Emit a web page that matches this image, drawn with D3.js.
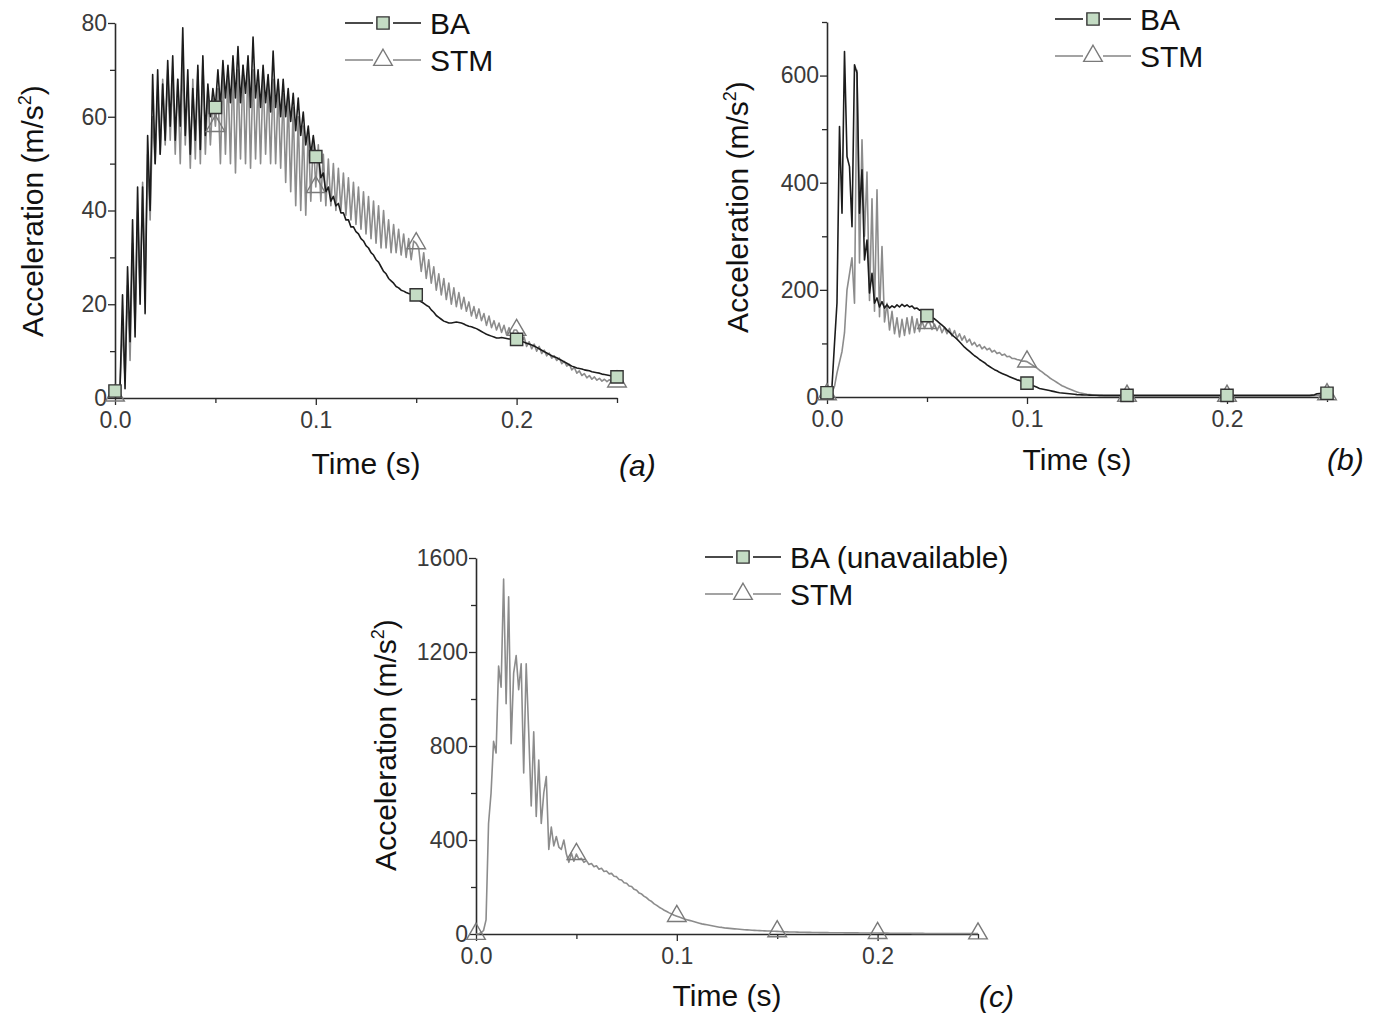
<!DOCTYPE html>
<html>
<head>
<meta charset="utf-8">
<script src="https://cdn.jsdelivr.net/npm/d3@7"></script>
<style>
  body { margin: 0; background: #fff; }
  svg { display: block; }
</style>
</head>
<body>
<div id="chart"></div>
<script>
// samples are spaced evenly, 0.00125 s apart, from 0 to 0.25 s (201 values)
const timeStep = 0.00125;
const markerTimes = [0, 0.05, 0.1, 0.15, 0.2, 0.25];
const xTicks = [0, 0.1, 0.2];
const xMinorTicks = [0.05, 0.15, 0.25];

// (a)
const baA = [
  1.5, 1, 2, 22, 2, 28, 12, 38,
  13, 45, 20, 45, 18, 56, 40, 69,
  50, 70, 52, 67, 55, 72, 58, 73,
  55, 68, 58, 79, 56, 70, 52, 66,
  55, 71, 53, 73, 56, 67, 60, 66,
  62, 70, 62, 72, 64, 71, 63, 73,
  64, 75, 63, 71, 65, 73, 62, 77,
  64, 70, 62, 71, 63, 69, 61, 74,
  62, 68, 60, 68, 60, 66, 59, 65,
  57, 64, 56, 61, 54, 58, 52, 56,
  51.5, 52, 47, 48, 44, 45, 42, 43,
  41, 41.5, 39.5, 39.5, 38, 38, 36.5, 36.5,
  35.5, 35, 34, 33.5, 32.5, 32, 31, 30.5,
  29.5, 29, 28, 27, 26.5, 25.5, 25, 24.5,
  23.8, 23.5, 23, 22.8, 22.5, 22.3, 22.2, 22.1,
  22, 21, 20.5, 20.2, 19.8, 19.5, 18.8, 18.3,
  17.6, 17.2, 16.8, 16.4, 16.2, 16, 16, 16.1,
  16.2, 16.1, 16, 15.8, 15.5, 15.3, 15.2, 15,
  14.8, 14.5, 14.2, 13.9, 13.6, 13.4, 13.2, 13,
  12.8, 12.8, 12.9, 12.8, 12.7, 12.6, 12.6, 12.5,
  12.5, 12.3, 12.1, 11.9, 11.7, 11.5, 11.3, 11.1,
  10.8, 10.5, 10.2, 9.9, 9.6, 9.3, 9.0, 8.8,
  8.6, 8.3, 8.0, 7.7, 7.4, 7.1, 6.8, 6.6,
  6.4, 6.3, 6.2, 6.0, 5.9, 5.8, 5.6, 5.5,
  5.4, 5.3, 5.1, 5.0, 4.9, 4.8, 4.7, 4.6,
  4.5
];
const stmA = [
  0.5, 0.5, 3, 15, 4, 24, 8, 33,
  15, 40, 22, 46, 25, 52, 38, 60,
  50, 66, 52, 68, 54, 70, 55, 69,
  52, 68, 50, 72, 54, 67, 49, 68,
  51, 70, 50, 72, 52, 66, 54, 64,
  58, 66, 50, 70, 52, 69, 50, 71,
  48, 70, 51, 71, 50, 72, 49, 70,
  51, 68, 50, 69, 52, 67, 50, 68,
  50, 66, 49, 65, 46, 64, 44, 62,
  41, 60, 40, 58, 39, 57, 42, 55,
  45, 54, 42, 52, 41, 51, 41, 50,
  40, 49, 40, 48, 39, 47, 38, 46,
  37, 45, 36, 44, 35, 43, 34, 42,
  33, 41, 32, 40, 32, 38, 31, 37,
  31, 36, 30.5, 35, 30, 34, 29.5, 33.5,
  33, 32, 27, 31, 25.5, 29.5, 24.5, 28,
  23, 26.5, 22, 25.5, 21, 24.5, 20, 23.5,
  19.5, 22.5, 19, 21.5, 18.5, 20.5, 17.5, 19.5,
  17, 19, 16.5, 18, 15.5, 17.5, 15, 16.5,
  14.5, 16, 14, 15.5, 13.5, 15, 13, 14.5,
  14.5, 13.5, 12, 13, 11, 12, 10.5, 11.5,
  10, 11, 9.5, 10.2, 9, 9.6, 8.5, 9,
  8, 8.5, 7.3, 7.8, 6.8, 7.2, 6, 6.5,
  5.3, 5.8, 4.8, 5.2, 4.3, 4.8, 4, 4.5,
  3.8, 4.2, 3.6, 4, 3.5, 3.9, 3.4, 3.7,
  3.5
];

// (b)
const baB = [
  8, 8, 20, 100, 176, 505, 343, 645,
  449, 430, 318, 620, 605, 343, 424, 256,
  293, 194, 231, 175, 185, 168, 178, 166,
  172, 166, 170, 167, 172, 168, 173, 169,
  172, 168, 170, 165, 166, 162, 163, 158,
  152, 154, 148, 146, 142, 138, 134, 130,
  125, 121, 116, 112, 108, 103, 98, 93,
  89, 85, 81, 77, 74, 70, 67, 64,
  60, 57, 54, 51, 49, 46, 44, 42,
  40, 38, 36, 34, 32, 31, 29, 28,
  26, 24, 22, 20, 18, 16, 15, 14,
  13, 12, 11, 10, 9, 8, 7.5, 7,
  6.5, 6, 5.5, 5, 4.5, 4.2, 4, 3.8,
  3.6, 3.5, 3.4, 3.3, 3.2, 3.1, 3, 3,
  3, 3, 3, 3, 3, 3, 3, 3,
  3, 3, 3, 3, 3, 3, 3, 3,
  3, 3, 3, 3, 3, 3, 3, 3,
  3, 3, 3, 3, 3, 3, 3, 3,
  3, 3, 3, 3, 3, 3, 3, 3,
  3, 3, 3, 3, 3, 3, 3, 3,
  3, 3, 3, 3, 3, 3, 3, 3,
  3, 3, 3, 3, 3, 3, 3, 3,
  3, 3, 3, 3, 3, 3, 3, 3,
  3, 3, 3, 3, 3, 3, 3, 3,
  3, 3, 3.5, 4, 6, 6.5, 7, 7,
  7
];
const stmB = [
  5, 5, 8, 20, 45, 65, 85, 120,
  200, 230, 260, 175, 610, 250, 480, 300,
  420, 180, 370, 160, 387, 150, 281, 140,
  175, 125, 160, 118, 148, 112, 145, 115,
  148, 118, 150, 120, 146, 122, 142, 128,
  138, 140, 126, 136, 124, 134, 120, 130,
  118, 128, 114, 124, 110, 118, 106, 114,
  102, 108, 97, 102, 94, 98, 90, 94,
  88, 91, 84, 87, 81, 83, 78, 80,
  75, 76, 72, 72, 70, 69, 67, 67,
  66, 63, 60, 57, 54, 50, 47, 43,
  40, 36, 33, 30, 27, 24, 21, 19,
  17, 15, 13, 11, 9.5, 8, 7, 6,
  5, 4.5, 4, 3.5, 3, 2.5, 2.5, 2,
  2, 2, 2, 2, 2, 2, 2, 2,
  2, 2, 2, 2, 2, 2, 2, 2,
  2, 2, 2, 2, 2, 2, 2, 2,
  2, 2, 2, 2, 2, 2, 2, 2,
  2, 2, 2, 2, 2, 2, 2, 2,
  2, 2, 2, 2, 2, 2, 2, 2,
  2, 2, 2, 2, 2, 2, 2, 2,
  2, 2, 2, 2, 2, 2, 2, 2,
  2, 2, 2, 2, 2, 2, 2, 2,
  2, 2, 2, 2, 2, 2, 2, 2,
  2, 2, 2, 2.5, 3, 3.5, 4, 4.5,
  5
];

// (c) - BA not available, only STM
const stmC = [
  0, 0, 5, 15, 60, 470, 600, 820,
  770, 1140, 1050, 1510, 980, 1435, 810, 1110,
  1185, 1040, 1150, 685, 1150, 860, 545, 860,
  500, 740, 470, 600, 670, 360, 455, 375,
  415, 370, 360, 400, 340, 305, 345, 310,
  340, 318, 322, 305, 312, 296, 300, 286,
  290, 276, 280, 266, 268, 256, 258, 246,
  244, 232, 230, 218, 216, 204, 202, 190,
  186, 174, 170, 160, 154, 144, 138, 128,
  122, 114, 108, 101, 96, 90, 85, 80,
  76, 72, 68, 64, 61, 58, 55, 52,
  49, 46, 43, 41, 39, 37, 35, 33,
  31, 29, 28, 26, 25, 24, 23, 22,
  21, 20, 19, 18, 17.5, 17, 16, 15.5,
  15, 14.5, 14, 13.5, 13, 12.5, 12, 11.5,
  11, 10.5, 10, 9.6, 9.2, 8.8, 8.5, 8.2,
  7.8, 7.6, 7.4, 7.2, 7, 6.8, 6.6, 6.4,
  6.2, 6, 5.9, 5.8, 5.7, 5.6, 5.5, 5.4,
  5.3, 5.2, 5.1, 5, 5, 4.9, 4.8, 4.7,
  4.6, 4.5, 4.4, 4.3, 4.2, 4.1, 4, 4,
  4, 3.9, 3.8, 3.7, 3.6, 3.5, 3.4, 3.3,
  3.2, 3.1, 3, 3, 3, 2.9, 2.8, 2.7,
  2.6, 2.5, 2.5, 2.4, 2.4, 2.3, 2.3, 2.2,
  2.2, 2.1, 2.1, 2, 2, 2, 2, 2,
  2, 2, 2, 2, 2, 2, 2, 2,
  2
];

const yTicksA = [0, 20, 40, 60, 80];
const yMinorA = [10, 30, 50, 70];
const yTicksB = [0, 200, 400, 600];
const yMinorB = [100, 300, 500, 700];
const yTicksC = [0, 400, 800, 1200, 1600];
const yMinorC = [200, 600, 1000, 1400];

const legendAB = ["BA", "STM"];
const legendC = ["BA (unavailable)", "STM"];

const baColor = "#1c1c1c";
const stmColor = "#8c8c8c";

const panels = [
  { id: "a", x0: 115, x1: 617, yTop: 23, yBottom: 398, yMax: 80,
    yTicks: yTicksA, yMinor: yMinorA, ba: baA, stm: stmA, legend: legendAB,
    legX: 345, legY: 23, yTitleX: 43, yTitleY: 211, xTitleX: 366, xTitleY: 474,
    tagX: 619, tagY: 476 },
  { id: "b", x0: 827, x1: 1327, yTop: 22, yBottom: 397, yMax: 700,
    yTicks: yTicksB, yMinor: yMinorB, ba: baB, stm: stmB, legend: legendAB,
    legX: 1055, legY: 19, yTitleX: 748, yTitleY: 207, xTitleX: 1077, xTitleY: 470,
    tagX: 1327, tagY: 470 },
  { id: "c", x0: 476, x1: 978, yTop: 558, yBottom: 934, yMax: 1600,
    yTicks: yTicksC, yMinor: yMinorC, ba: null, stm: stmC, legend: legendC,
    legX: 705, legY: 557, yTitleX: 396, yTitleY: 745, xTitleX: 727, xTitleY: 1006,
    tagX: 979, tagY: 1007 }
];

const svg = d3.select("#chart").append("svg")
  .attr("width", 1384)
  .attr("height", 1021)
  .style("font-family", "'Liberation Sans', Arial, sans-serif");

const squareSym = d3.symbol().type(d3.symbolSquare).size(150);
const triangleSym = d3.symbol().type(d3.symbolTriangle).size(150);

function drawMarkers(g, values, x, y, kind) {
  const pts = markerTimes.map(t => [t, values[Math.round(t / timeStep)]]);
  g.selectAll(null)
    .data(pts)
    .enter()
    .append("path")
    .attr("d", kind === "ba" ? squareSym : triangleSym)
    .attr("transform", d => "translate(" + x(d[0]) + "," + y(d[1]) + ")")
    .attr("fill", kind === "ba" ? "#c4dcc4" : "none")
    .attr("stroke", kind === "ba" ? "#333" : "#7a7a7a")
    .attr("stroke-width", 1.4);
}

function styleAxis(g, labels) {
  g.select(".domain").attr("stroke", "#2a2a2a").attr("stroke-width", 1.6);
  g.selectAll(".tick line").attr("stroke", "#2a2a2a").attr("stroke-width", 1.3);
  g.selectAll(".tick text")
    .attr("fill", "#3a3a3a")
    .style("font-size", "23px")
    .style("font-family", "'Liberation Sans', Arial, sans-serif");
  if (!labels) g.select(".domain").remove();
}

panels.forEach(p => {
  const g = svg.append("g").attr("class", "panel-" + p.id);

  const x = d3.scaleLinear().domain([0, 0.25]).range([p.x0, p.x1]);
  const y = d3.scaleLinear().domain([0, p.yMax]).range([p.yBottom, p.yTop]);

  // axes: major + minor ticks
  g.append("g")
    .attr("transform", "translate(0," + p.yBottom + ")")
    .call(d3.axisBottom(x).tickValues(xTicks).tickFormat(d3.format(".1f"))
      .tickSizeInner(7).tickSizeOuter(0).tickPadding(7))
    .call(a => styleAxis(a, true));
  g.append("g")
    .attr("transform", "translate(0," + p.yBottom + ")")
    .call(d3.axisBottom(x).tickValues(xMinorTicks).tickFormat("").tickSize(5))
    .call(a => styleAxis(a, false));
  g.append("g")
    .attr("transform", "translate(" + p.x0 + ",0)")
    .call(d3.axisLeft(y).tickValues(p.yTicks).tickFormat(d3.format("d"))
      .tickSizeInner(7).tickSizeOuter(0).tickPadding(1))
    .call(a => styleAxis(a, true));
  g.append("g")
    .attr("transform", "translate(" + p.x0 + ",0)")
    .call(d3.axisLeft(y).tickValues(p.yMinor).tickFormat("").tickSize(5))
    .call(a => styleAxis(a, false));

  const line = d3.line()
    .x((d, i) => x(i * timeStep))
    .y(d => y(d));

  // STM underneath, BA drawn over it
  g.append("path").datum(p.stm)
    .attr("d", line)
    .attr("fill", "none")
    .attr("stroke", stmColor)
    .attr("stroke-width", 1.6)
    .attr("stroke-linejoin", "round");
  if (p.ba) {
    g.append("path").datum(p.ba)
      .attr("d", line)
      .attr("fill", "none")
      .attr("stroke", baColor)
      .attr("stroke-width", 1.6)
      .attr("stroke-linejoin", "round");
  }

  drawMarkers(g, p.stm, x, y, "stm");
  if (p.ba) drawMarkers(g, p.ba, x, y, "ba");

  // axis titles
  const yt = g.append("text")
    .attr("transform", "translate(" + p.yTitleX + "," + p.yTitleY + ") rotate(-90)")
    .attr("text-anchor", "middle")
    .attr("fill", "#111")
    .style("font-size", "30px");
  yt.append("tspan").text("Acceleration (m/s");
  yt.append("tspan").attr("dy", -12).style("font-size", "18px").text("2");
  yt.append("tspan").attr("dy", 12).text(")");

  g.append("text")
    .attr("x", p.xTitleX).attr("y", p.xTitleY)
    .attr("text-anchor", "middle")
    .attr("fill", "#111")
    .style("font-size", "30px")
    .text("Time (s)");

  g.append("text")
    .attr("x", p.tagX).attr("y", p.tagY)
    .attr("fill", "#111")
    .style("font-size", "30px")
    .style("font-style", "italic")
    .text("(" + p.id + ")");

  // legend
  const leg = g.append("g").attr("transform", "translate(" + p.legX + "," + p.legY + ")");
  const rows = [
    { label: p.legend[0], color: baColor, kind: "ba" },
    { label: p.legend[1], color: stmColor, kind: "stm" }
  ];
  rows.forEach((r, k) => {
    const ry = k * 37;
    leg.append("line").attr("x1", 0).attr("x2", 28).attr("y1", ry).attr("y2", ry)
      .attr("stroke", r.color).attr("stroke-width", 1.6);
    leg.append("line").attr("x1", 48).attr("x2", 76).attr("y1", ry).attr("y2", ry)
      .attr("stroke", r.color).attr("stroke-width", 1.6);
    leg.append("path")
      .attr("d", r.kind === "ba" ? squareSym : triangleSym)
      .attr("transform", "translate(38," + ry + ")")
      .attr("fill", r.kind === "ba" ? "#c4dcc4" : "none")
      .attr("stroke", r.kind === "ba" ? "#333" : "#7a7a7a")
      .attr("stroke-width", 1.4);
    leg.append("text")
      .attr("x", 85).attr("y", ry + 11)
      .attr("fill", "#111")
      .style("font-size", "30px")
      .text(r.label);
  });
});
</script>
</body>
</html>
